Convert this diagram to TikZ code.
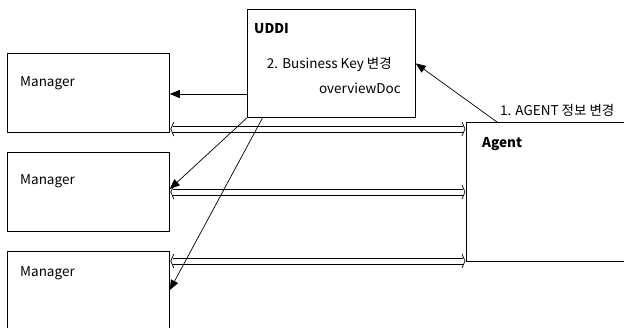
\documentclass[tikz,border=0pt]{standalone}
\usepackage{fontspec}
\setmainfont{Noto Sans CJK KR}
\usetikzlibrary{arrows.meta,calc}
\begin{document}
\begin{tikzpicture}[x=1pt,y=-1pt,
  box/.style={draw=black,line width=0.8pt,rectangle,anchor=north west,inner sep=0pt},
  lbl/.style={inner sep=0pt,font=\fontsize{13.5}{16}\selectfont},
  blbl/.style={lbl,font=\fontsize{13.5}{16}\selectfont\bfseries},
  push/.style={line width=0.7pt,-{Triangle[length=10pt,width=8pt]}},
  rail/.style={line width=0.9pt},
  chev/.style={line width=0.7pt}]
\useasboundingbox (0,0) rectangle (624,327);
\clip (0,0) rectangle (624,327);
\fill[white] (0,0) rectangle (624,327);

% boxes
\node[box,minimum width=162pt,minimum height=79pt] (m1) at (7,53) {};
\node[box,minimum width=162pt,minimum height=79pt] (m2) at (7,152) {};
\node[box,minimum width=162pt,minimum height=90pt] (m3) at (7,251) {};
\node[box,minimum width=168pt,minimum height=108pt] (uddi) at (247,9) {};
\node[box,minimum width=170pt,minimum height=139pt] (agent) at (466,122) {};

% labels
\node[blbl,anchor=base west] (tu) at (254,33) {UDDI};
\node[lbl,anchor=base east] (tk) at (392,68) {2. Business Key 변경};
\node[lbl,anchor=base east] (to) at (401,93) {overviewDoc};
\node[lbl,anchor=base west] (tc) at (500,115) {1. AGENT 정보 변경};
\node[blbl,anchor=base west] (ta) at (482,147) {Agent};
\node[lbl,anchor=base west] (t1) at (20,86) {Manager};
\node[lbl,anchor=base west] (t2) at (20,184) {Manager};
\node[lbl,anchor=base west] (t3) at (20,276) {Manager};

% row levels and connector ends
\coordinate (r1) at (0,129);
\coordinate (r2) at (0,192);
\coordinate (r3) at (0,261);
\coordinate (k1) at (0,94);
\coordinate (k3) at (0,290);
\coordinate (ub) at (263,117);
\coordinate (at) at (497,122);

% two-way channels between managers and agent: double rail with open chevrons
\foreach \m/\r in {m1/r1,m2/r2,m3/r3}{
  \coordinate (L) at (\m.east |- \r);
  \coordinate (R) at (agent.west |- \r);
  \draw[rail] ($(L)+(3,-3)$) -- ($(R)+(-3,-3)$);
  \draw[rail] ($(L)+(3,3)$) -- ($(R)+(-3,3)$);
  \draw[chev] ($(L)+(4,-7)$) .. controls ($(L)+(2,-3)$) .. ($(L)+(1,0)$)
              .. controls ($(L)+(2,3)$) .. ($(L)+(4,7)$);
  \draw[chev] ($(R)+(-4,-7)$) .. controls ($(R)+(-2,-3)$) .. ($(R)+(-1,0)$)
              .. controls ($(R)+(-2,3)$) .. ($(R)+(-4,7)$);
}

% notifications
\draw[push] (at) -- (uddi.east);
\draw[push] (uddi.west |- k1) -- (m1.east |- k1);
\draw[push] (uddi.south west) -- ($(m2.east |- r2)+(0,-3)$);
\draw[push] (ub) -- (m3.east |- k3);
\end{tikzpicture}
\end{document}
